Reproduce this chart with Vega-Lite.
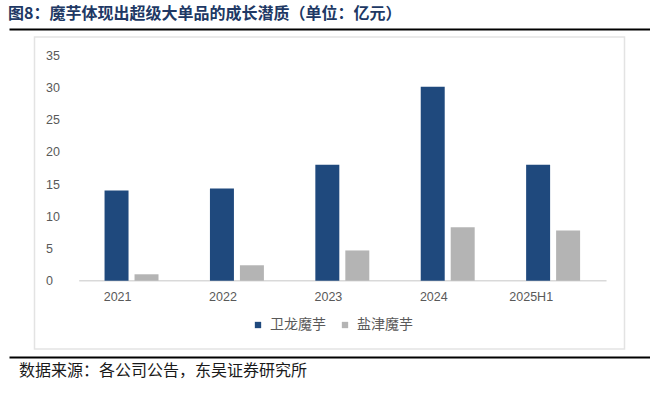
{
  "$schema": "https://vega.github.io/schema/vega-lite/v6.json",
  "padding": {"left": 8, "top": 6, "right": 0, "bottom": 15},
  "spacing": 8,
  "center": true,
  "bounds": "flush",
  "config": {"view": {"stroke": null}, "font": "Noto Sans CJK SC"},
  "vconcat": [
    {
      "width": 641,
      "height": 1,
      "title": {"text": "图8：魔芋体现出超级大单品的成长潜质（单位：亿元）", "anchor": "start", "fontSize": 16, "fontWeight": "bold", "color": "#203864", "font": "Noto Sans CJK SC", "offset": 6, "dx": -1},
      "data": {"values": [{"v": 0.5}]},
      "mark": {"type": "point", "opacity": 0, "size": 1},
      "encoding": {
        "x": {"field": "v", "type": "quantitative", "scale": {"domain": [0, 1]}, "axis": {"labels": false, "ticks": false, "grid": false, "title": null, "domainColor": "#000000", "domainWidth": 2}}
      }
    },
    {
      "width": 590,
      "height": 312,
      "view": {"stroke": "#e3e3e3", "strokeWidth": 1.5},
      "data": {"values": [
        {"year": "2021", "series": "卫龙魔芋", "value": 14.0},
        {"year": "2021", "series": "盐津魔芋", "value": 1.0},
        {"year": "2022", "series": "卫龙魔芋", "value": 14.3},
        {"year": "2022", "series": "盐津魔芋", "value": 2.4},
        {"year": "2023", "series": "卫龙魔芋", "value": 18.0},
        {"year": "2023", "series": "盐津魔芋", "value": 4.7},
        {"year": "2024", "series": "卫龙魔芋", "value": 30.1},
        {"year": "2024", "series": "盐津魔芋", "value": 8.3},
        {"year": "2025H1", "series": "卫龙魔芋", "value": 18.0},
        {"year": "2025H1", "series": "盐津魔芋", "value": 7.8}
      ]},
      "layer": [
        {
          "data": {"values": [{"a": "2021", "b": "2025H1"}]},
          "mark": {"type": "rule", "color": "#d9d9d9", "strokeWidth": 1.5},
          "encoding": {
            "x": {"field": "a", "type": "nominal", "bandPosition": -0.47},
            "x2": {"field": "b", "bandPosition": 1.49},
            "y": {"datum": 0}
          }
        },
        {
          "mark": {"type": "bar"},
          "encoding": {
            "x": {"field": "year", "type": "nominal",
              "scale": {"paddingInner": 0.488, "paddingOuter": 0.543, "align": 0.612},
              "axis": {"orient": "bottom", "offset": -68.3, "domain": false, "ticks": false, "tickSize": 0, "labelPadding": 16, "labelAngle": 0, "labelFontSize": 12.5, "labelColor": "#595959", "labelFont": "Liberation Sans", "title": null, "grid": false}},
            "xOffset": {"field": "series", "type": "nominal", "sort": ["卫龙魔芋", "盐津魔芋"], "scale": {"paddingInner": 0.2, "paddingOuter": 0}},
            "y": {"field": "value", "type": "quantitative",
              "scale": {"domain": [-10.6, 37.84], "nice": false, "zero": false},
              "axis": {"values": [0, 5, 10, 15, 20, 25, 30, 35], "orient": "left", "offset": -11, "domain": false, "ticks": false, "tickSize": 0, "labelPadding": 0, "labelAlign": "left", "grid": false, "title": null, "labelFontSize": 12.5, "labelColor": "#595959", "labelFont": "Liberation Sans"}},
            "y2": {"datum": 0},
            "color": {"field": "series", "type": "nominal", "sort": ["卫龙魔芋", "盐津魔芋"],
              "scale": {"range": ["#1f497d", "#b4b4b4"]},
              "legend": {"title": null, "orient": "none", "legendX": 242, "legendY": 290, "direction": "horizontal", "symbolType": "square", "symbolSize": 40, "symbolStrokeWidth": 0, "labelFontSize": 14, "labelColor": "#595959", "labelFont": "Noto Sans CJK SC", "columnPadding": 12, "labelOffset": 5}}
          }
        }
      ]
    },
    {
      "width": 641,
      "height": 1,
      "title": {"text": "数据来源：各公司公告，东吴证券研究所", "orient": "bottom", "anchor": "start", "dx": 10, "fontSize": 16, "fontWeight": "normal", "color": "#1a1a1a", "font": "Noto Sans CJK SC", "offset": 5},
      "data": {"values": [{"v": 0.5}]},
      "mark": {"type": "point", "opacity": 0, "size": 1},
      "encoding": {
        "x": {"field": "v", "type": "quantitative", "scale": {"domain": [0, 1]}, "axis": {"orient": "top", "labels": false, "ticks": false, "grid": false, "title": null, "domainColor": "#000000", "domainWidth": 2}}
      }
    }
  ]
}
